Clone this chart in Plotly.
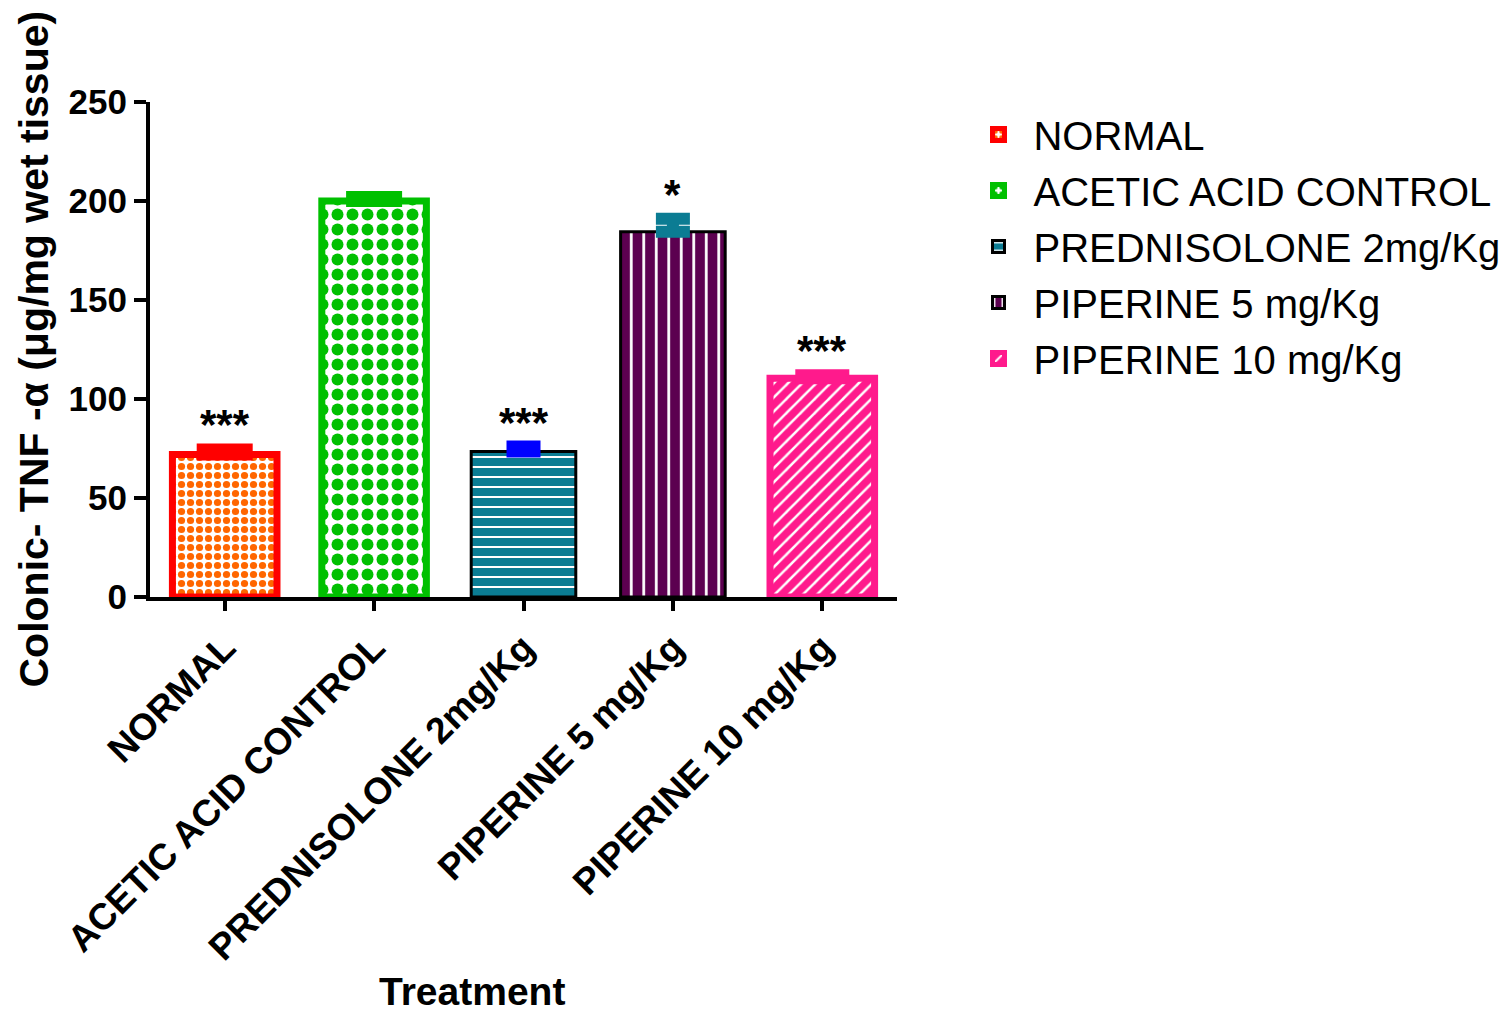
import plotly.graph_objects as go

categories = ["NORMAL", "ACETIC ACID CONTROL", "PREDNISOLONE 2mg/Kg",
              "PIPERINE 5 mg/Kg", "PIPERINE 10 mg/Kg"]
means = [72, 200, 73.5, 184.5, 110.5]
sems = [2.5, 2, 2.5, 6.5, 1.5]
signif = ["***", "", "***", "*", "***"]
y_ticks = [0, 50, 100, 150, 200, 250]

styles = [
    dict(bg="white", fg="#FF6600", shape=".", size=9, sol=0.5, line="#FF0000", lw=7, err="#FF0000", cap=28),
    dict(bg="white", fg="#00C000", shape=".", size=15, sol=0.5, line="#00C000", lw=7, err="#00C000", cap=28),
    dict(bg="#0B7C93", fg="white", shape="-", size=10, sol=0.2, line="#000000", lw=3, err="#0000FF", cap=17),
    dict(bg="#5C0050", fg="white", shape="|", size=12.5, sol=0.22, line="#000000", lw=3, err="#0B7C93", cap=17),
    dict(bg="#FF1A8C", fg="white", shape="/", size=10, sol=0.25, line="#FF1A8C", lw=7, err="#FF1A8C", cap=27),
]

FONT = "Liberation Sans"

fig = go.Figure()
for i, (cat, m, e, st) in enumerate(zip(categories, means, sems, styles)):
    fig.add_trace(go.Bar(
        x=[cat], y=[m], name=cat, width=0.7, legendgroup=cat,
        marker=dict(color=st["bg"], line=dict(color=st["line"], width=st["lw"]),
                    pattern=dict(shape=st["shape"], fgcolor=st["fg"], bgcolor=st["bg"],
                                 size=st["size"], solidity=st["sol"], fillmode="replace")),
        error_y=dict(type="data", array=[e], arrayminus=[0], symmetric=False,
                     color=st["err"], thickness=12, width=st["cap"], visible=True),
    ))
    if signif[i]:
        fig.add_annotation(x=cat, y=m + e, text=signif[i], showarrow=False,
                           yanchor="bottom", yshift=-1,
                           font=dict(family=FONT, size=42, color="black", weight="bold"))

# axis titles as annotations for precise placement
fig.add_annotation(x=0.431, y=0, xref="paper", yref="paper", yshift=-394,
                   text="<b>Treatment</b>", showarrow=False, xanchor="center", yanchor="middle",
                   font=dict(family=FONT, size=39, color="black"))
fig.add_annotation(x=0, y=0.5, xref="paper", yref="paper", xshift=-117,
                   text="<b>Colonic- TNF -α (μg/mg wet tissue)</b>", textangle=-90,
                   showarrow=False, xanchor="center", yanchor="middle",
                   font=dict(family=FONT, size=41, color="black"))

fig.update_layout(
    width=1508, height=1012,
    margin=dict(l=142, r=619, t=94, b=423, autoexpand=False),
    paper_bgcolor="white", plot_bgcolor="white",
    barmode="overlay",
    font=dict(family=FONT, color="black"),
    legend=dict(x=1.089, y=1.0, xanchor="left", yanchor="top",
                font=dict(family=FONT, size=40, color="black"),
                tracegroupgap=1, itemwidth=60),
    xaxis=dict(showline=True, linecolor="black", linewidth=4, ticks="outside",
               ticklen=10, tickwidth=4, tickcolor="black", tickangle=-45,
               tickfont=dict(family=FONT, size=37, weight="bold"),
               range=[-0.5, 4.5], showgrid=False, automargin=False),
    yaxis=dict(showline=True, linecolor="black", linewidth=4, ticks="outside",
               ticklen=12, tickwidth=4, tickcolor="black", range=[0, 250],
               tickvals=y_ticks, showgrid=False, zeroline=False, automargin=False,
               tickfont=dict(family=FONT, size=35, weight="bold")),
)

fig.write_html("out.html")
